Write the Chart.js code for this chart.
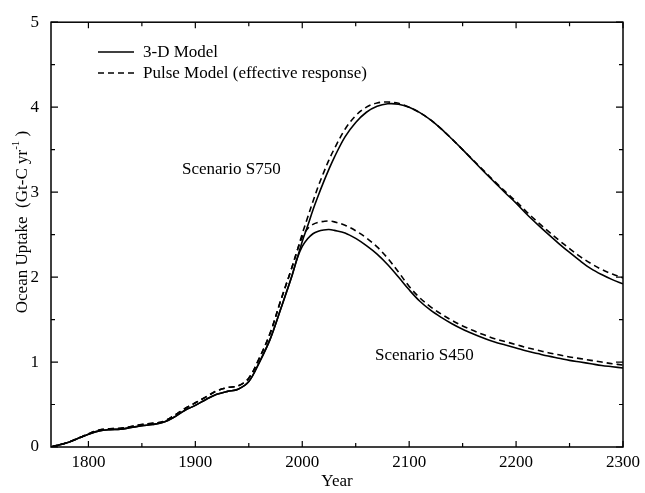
<!DOCTYPE html>
<html><head><meta charset="utf-8">
<script src="https://cdn.jsdelivr.net/npm/chart.js@4"></script>
<style>html,body{margin:0;padding:0;background:#fff;}</style>
</head><body>
<canvas id="c" width="645" height="493" style="width:645px;height:493px;display:block"></canvas>
<script>
// ---- data ----
const histYears  = [1765,1780,1790,1800,1810,1820,1830,1840,1850,1860,1870,1880,1890,1900,1910,1920,1930,1940,1950,1960,1970,1980,1990];
const hist3D     = [0,0.05,0.10,0.15,0.19,0.205,0.21,0.23,0.25,0.265,0.29,0.35,0.43,0.49,0.56,0.62,0.655,0.68,0.77,1.00,1.27,1.63,2.00];
const histPulse  = [0,0.05,0.10,0.155,0.20,0.215,0.22,0.24,0.265,0.28,0.30,0.37,0.45,0.52,0.59,0.66,0.70,0.72,0.81,1.05,1.34,1.73,2.10];
const futureYears = [1995,2000,2005,2010,2015,2020,2025,2030,2040,2050,2060,2070,2080,2090,2100,2110,2120,2130,2140,2150,2160,2170,2180,2190,2200,2210,2220,2230,2240,2250,2260,2270,2280,2290,2300];
const s750_3D    = [2.21,2.42,2.60,2.79,2.96,3.12,3.27,3.41,3.65,3.82,3.94,4.01,4.04,4.035,4.00,3.935,3.85,3.745,3.625,3.50,3.37,3.24,3.115,2.99,2.87,2.74,2.62,2.505,2.395,2.29,2.19,2.10,2.03,1.97,1.92];
const s750_pulse = [2.30,2.51,2.70,2.89,3.07,3.23,3.38,3.51,3.74,3.90,4.00,4.05,4.06,4.045,4.00,3.935,3.85,3.745,3.625,3.50,3.375,3.25,3.125,3.005,2.89,2.765,2.65,2.54,2.435,2.335,2.24,2.16,2.09,2.035,1.99];
const s450_3D    = [2.21,2.36,2.45,2.51,2.54,2.555,2.56,2.55,2.52,2.455,2.37,2.27,2.145,2.00,1.85,1.715,1.61,1.525,1.45,1.385,1.33,1.28,1.235,1.20,1.165,1.13,1.10,1.07,1.045,1.02,1.00,0.98,0.96,0.945,0.93];
const s450_pulse = [2.30,2.47,2.57,2.62,2.645,2.655,2.66,2.65,2.61,2.545,2.46,2.355,2.22,2.06,1.89,1.755,1.65,1.565,1.49,1.425,1.37,1.32,1.275,1.24,1.205,1.17,1.14,1.11,1.085,1.06,1.04,1.02,1.00,0.98,0.965];
const xTickYears  = [1800,1900,2000,2100,2200,2300];
const xMinorYears = [1800,1850,1900,1950,2000,2050,2100,2150,2200,2250,2300];
const yTickValues = [0,1,2,3,4,5];
const yMinorValues = [0,0.5,1,1.5,2,2.5,3,3.5,4,4.5,5];
const seriesLabels = ['3-D Model','Pulse Model (effective response)'];
const scenarioLabels = ['Scenario S750','Scenario S450'];
const xTitle = 'Year';
const yTitleMain = 'Ocean Uptake  (Gt-C yr';
const yTitleSup = '-1';

const FONT = '"Liberation Serif", "Times New Roman", serif';

function pts(hy, hv, fy, fv){
  const a = hy.map((y,i)=>({x:y, y:hv[i]}));
  return a.concat(fy.map((y,i)=>({x:y, y:fv[i]})));
}
const lineBase = {borderColor:'#000', borderWidth:1.6, pointRadius:0, fill:false, tension:0.35};
const datasets = [
  Object.assign({label:seriesLabels[0]+' S750', data:pts(histYears,hist3D,futureYears,s750_3D)}, lineBase),
  Object.assign({label:seriesLabels[1]+' S750', data:pts(histYears,histPulse,futureYears,s750_pulse), borderDash:[6,4]}, lineBase),
  Object.assign({label:seriesLabels[0]+' S450', data:pts(histYears,hist3D,futureYears,s450_3D)}, lineBase),
  Object.assign({label:seriesLabels[1]+' S450', data:pts(histYears,histPulse,futureYears,s450_pulse), borderDash:[6,4]}, lineBase),
];

const decor = {
  id:'decor',
  afterDatasetsDraw(chart){
    const ctx = chart.ctx, a = chart.chartArea, xs = chart.scales.x, ys = chart.scales.y;
    ctx.save();
    ctx.strokeStyle = '#000'; ctx.lineWidth = 1.5; ctx.setLineDash([]);
    ctx.strokeRect(a.left, a.top, a.right-a.left, a.bottom-a.top);
    ctx.lineWidth = 1.2;
    ctx.beginPath();
    xMinorYears.forEach(v=>{
      const px = xs.getPixelForValue(v);
      const L = xTickYears.includes(v) ? 6 : 4;
      ctx.moveTo(px, a.bottom); ctx.lineTo(px, a.bottom - L);
      ctx.moveTo(px, a.top); ctx.lineTo(px, a.top + L);
    });
    yMinorValues.forEach(v=>{
      const py = ys.getPixelForValue(v);
      const L = yTickValues.includes(v) ? 7 : 4;
      ctx.moveTo(a.left, py); ctx.lineTo(a.left + L, py);
      ctx.moveTo(a.right, py); ctx.lineTo(a.right - L, py);
    });
    ctx.stroke();

    // legend
    ctx.fillStyle = '#000';
    ctx.font = '17px ' + FONT;
    ctx.textBaseline = 'middle';
    const rows = [{y:52, dash:[]},{y:73, dash:[6,4]}];
    rows.forEach((r,i)=>{
      ctx.beginPath(); ctx.lineWidth = 1.6; ctx.setLineDash(r.dash);
      ctx.moveTo(98, r.y); ctx.lineTo(134, r.y); ctx.stroke();
      ctx.setLineDash([]);
      ctx.fillText(seriesLabels[i], 143, r.y+1);
    });

    // scenario annotations (placed in data coordinates)
    ctx.textBaseline = 'middle';
    ctx.fillText(scenarioLabels[0], xs.getPixelForValue(1887.5), ys.getPixelForValue(3.27));
    ctx.fillText(scenarioLabels[1], xs.getPixelForValue(2068), ys.getPixelForValue(1.08));

    // y title with superscript
    ctx.save();
    ctx.translate(21, 222);
    ctx.rotate(-Math.PI/2);
    ctx.font = '17px ' + FONT;
    const wMain = ctx.measureText(yTitleMain).width;
    ctx.font = '11px ' + FONT;
    const wSup = ctx.measureText(yTitleSup).width;
    ctx.font = '17px ' + FONT;
    const wClose = ctx.measureText(' )').width;
    const total = wMain + wSup + wClose;
    let x0 = -total/2;
    ctx.textBaseline = 'alphabetic';
    ctx.fillText(yTitleMain, x0, 6);
    ctx.font = '11px ' + FONT;
    ctx.fillText(yTitleSup, x0 + wMain, -2);
    ctx.font = '17px ' + FONT;
    ctx.fillText(' )', x0 + wMain + wSup, 6);
    ctx.restore();
    ctx.restore();
  }
};

new Chart(document.getElementById('c'), {
  type:'line',
  data:{datasets},
  options:{
    responsive:false, animation:false, devicePixelRatio:1,
    layout:{padding:{top:11, right:18, left:0, bottom:0}},
    plugins:{legend:{display:false}, tooltip:{enabled:false}},
    scales:{
      x:{
        type:'linear', min:1765, max:2300,
        grid:{display:false, drawTicks:false}, border:{display:false},
        afterBuildTicks(s){ s.ticks = xTickYears.map(v=>({value:v})); },
        afterFit(s){ s.height = 46; },
        ticks:{color:'#000', padding:5, maxRotation:0, autoSkip:false, font:{family:FONT, size:17}, callback:v=>String(v)},
        title:{display:true, text:xTitle, color:'#000', font:{family:FONT, size:17}, padding:{top:0,bottom:1}}
      },
      y:{
        type:'linear', min:0, max:5,
        grid:{display:false, drawTicks:false}, border:{display:false},
        afterBuildTicks(s){ s.ticks = yTickValues.map(v=>({value:v})); },
        afterFit(s){ s.width = 51; },
        ticks:{color:'#000', padding:12, font:{family:FONT, size:17}, callback:v=>String(v)}
      }
    }
  },
  plugins:[decor]
});
</script>
</body></html>
